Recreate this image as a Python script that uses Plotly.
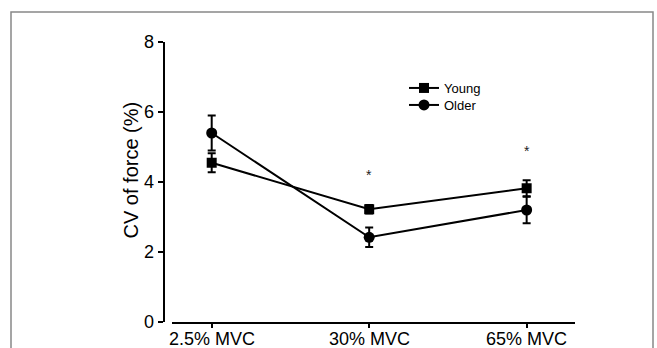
import plotly.graph_objects as go

# ---- data ----
categories = ["2.5% MVC", "30% MVC", "65% MVC"]
young_mean = [4.55, 3.22, 3.82]
young_err = [0.27, 0.12, 0.23]
older_mean = [5.40, 2.42, 3.20]
older_err = [0.50, 0.28, 0.38]
sig_categories = ["30% MVC", "65% MVC"]
sig_y = [4.2, 4.9]
y_ticks = [0, 2, 4, 6, 8]

W, H = 657, 348
FONT = "Arial, Liberation Sans, sans-serif"
xi = {c: i for i, c in enumerate(categories)}
xs = list(range(len(categories)))

fig = go.Figure()
fig.add_trace(go.Scatter(
    x=xs, y=young_mean, name="Young", mode="lines+markers", legend="legend",
    line=dict(color="black", width=2),
    marker=dict(symbol="square", size=10, color="black"),
    error_y=dict(type="data", array=young_err, visible=True, color="black", thickness=2, width=4),
))
fig.add_trace(go.Scatter(
    x=xs, y=older_mean, name="Older", mode="lines+markers", legend="legend2",
    line=dict(color="black", width=2),
    marker=dict(symbol="circle", size=11, color="black"),
    error_y=dict(type="data", array=older_err, visible=True, color="black", thickness=2, width=4),
))

for c, y in zip(sig_categories, sig_y):
    fig.add_annotation(x=xi[c], y=y, xref="x", yref="y", text="*", showarrow=False,
                       font=dict(family=FONT, size=14, color="#222"))

# x tick labels placed as text just below the axis
for i, c in enumerate(categories):
    fig.add_annotation(x=i, y=(H - 339) / H, xref="x", yref="paper", text=c,
                       showarrow=False, yanchor="middle",
                       font=dict(family=FONT, size=18, color="black"))

fig.add_annotation(x=117 / W, y=(H - 170.5) / H, xref="paper", yref="paper",
                   text="CV of force (%)", textangle=-90, showarrow=False,
                   font=dict(family=FONT, size=20, color="black"))

# frame around the figure
fig.add_shape(type="rect", xref="paper", yref="paper",
              x0=11 / W, x1=653 / W, y0=-0.1, y1=(H - 12) / H,
              line=dict(color="#888888", width=1.5))

leg_font = dict(family=FONT, size=13, color="black")
fig.update_layout(
    width=W, height=H,
    margin=dict(l=0, r=0, t=0, b=0, autoexpand=False),
    paper_bgcolor="white", plot_bgcolor="white",
    showlegend=True,
    legend=dict(x=404 / W, y=(H - 88) / H, xanchor="left", yanchor="middle",
                bgcolor="rgba(0,0,0,0)", borderwidth=0, font=leg_font, itemwidth=30),
    legend2=dict(x=404 / W, y=(H - 105) / H, xanchor="left", yanchor="middle",
                 bgcolor="rgba(0,0,0,0)", borderwidth=0, font=leg_font, itemwidth=30),
    xaxis=dict(
        domain=[171.7 / W, 575 / W],
        range=[-0.254, 2.307],
        automargin=False,
        tickmode="array", tickvals=xs, ticktext=[""] * len(categories),
        showline=True, linecolor="black", linewidth=2,
        ticks="outside", ticklen=4, tickwidth=2, tickcolor="black",
        showgrid=False, zeroline=False,
        tickfont=dict(family=FONT, size=18, color="black"),
    ),
    yaxis=dict(
        domain=[(H - 322) / H, (H - 42) / H],
        range=[0, 8],
        automargin=False,
        anchor="free", position=163.5 / W,
        tickmode="array", tickvals=y_ticks,
        showline=True, linecolor="black", linewidth=2,
        ticks="outside", ticklen=5, tickwidth=2, tickcolor="black",
        showgrid=False, zeroline=False,
        tickfont=dict(family=FONT, size=18, color="black"),
    ),
)

fig.write_html("out.html", config={"displayModeBar": False},
               post_script="document.body.style.margin='0';document.body.style.overflow='hidden';")
